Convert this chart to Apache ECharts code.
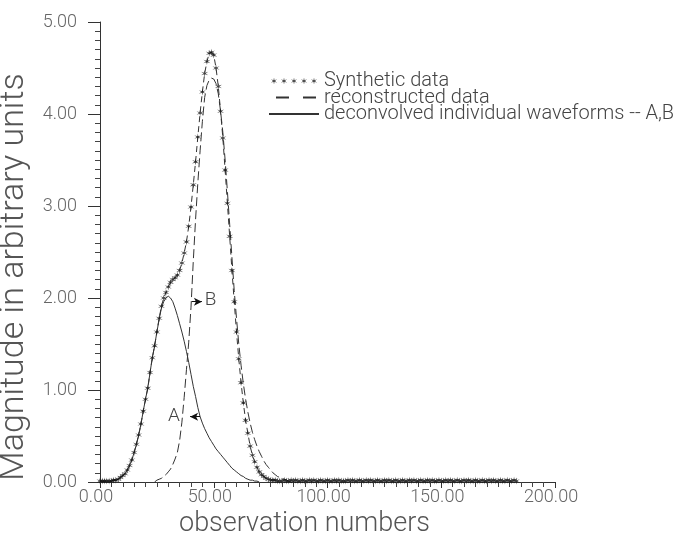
<!DOCTYPE html>
<html>
<head>
<meta charset="utf-8">
<script src="https://cdn.jsdelivr.net/npm/echarts@6/dist/echarts.min.js"></script>
<style>html,body{margin:0;padding:0;background:#fff}#c{width:687px;height:533px}</style>
</head>
<body>
<div id="c"></div>
<script>
// ---- data ----
// observation numbers are sampled at every integer, starting at the given start value
const syntheticStart = 0;
const syntheticData = [
  0.01,0.01,0.01,0.01,0.01,0.01,0.02,0.02,0.03,0.05,
  0.07,0.09,0.13,0.18,0.24,0.32,0.41,0.51,0.63,0.77,
  0.90,1.02,1.19,1.35,1.48,1.63,1.78,1.91,2.00,2.06,
  2.12,2.17,2.20,2.22,2.25,2.30,2.38,2.49,2.61,2.78,
  2.99,3.23,3.48,3.75,4.01,4.24,4.44,4.57,4.66,4.67,
  4.64,4.50,4.30,4.03,3.74,3.39,3.03,2.67,2.30,1.96,
  1.63,1.34,1.08,0.86,0.67,0.53,0.39,0.29,0.22,0.16,
  0.11,0.08,0.06,0.04,0.03,0.02,0.02,0.02,0.01,0.01,
  0.01,0.02,0.01,0.01,0.02,0.01,0.02,0.01,0.01,0.02,
  0.01,0.01,0.02,0.01,0.02,0.01,0.01,0.02,0.01,0.01,
  0.02,0.01,0.01,0.02,0.01,0.02,0.01,0.01,0.01,0.02,
  0.01,0.02,0.01,0.01,0.02,0.01,0.01,0.02,0.01,0.02,
  0.01,0.01,0.02,0.01,0.01,0.02,0.01,0.02,0.01,0.01,
  0.02,0.01,0.01,0.02,0.01,0.01,0.02,0.01,0.02,0.01,
  0.01,0.02,0.01,0.01,0.02,0.01,0.02,0.01,0.01,0.02,
  0.01,0.01,0.02,0.01,0.02,0.01,0.01,0.02,0.01,0.01,
  0.02,0.01,0.02,0.01,0.01,0.02,0.01,0.01,0.02,0.01,
  0.01,0.02,0.01,0.02,0.01,0.01,0.02,0.01,0.01,0.02,
  0.01,0.01,0.02,0.01
];
const reconstructedStart = 0;
const reconstructedData = [
  0.01,0.01,0.01,0.01,0.01,0.01,0.02,0.02,0.03,0.05,
  0.07,0.09,0.13,0.18,0.24,0.32,0.41,0.51,0.63,0.77,
  0.90,1.02,1.19,1.35,1.48,1.63,1.78,1.91,2.00,2.06,
  2.12,2.17,2.20,2.22,2.25,2.30,2.38,2.49,2.61,2.78,
  2.99,3.23,3.48,3.75,4.01,4.24,4.44,4.57,4.66,4.67,
  4.64,4.50,4.30,4.03,3.74,3.39,3.03,2.67,2.30,1.96,
  1.63,1.34,1.08,0.86,0.67,0.53,0.39,0.29,0.22,0.16,
  0.11,0.08,0.06,0.04,0.03,0.02,0.02,0.02,0.01,0.01
];
const waveAStart = 0;
const waveAData = [
  0.01,0.01,0.01,0.01,0.01,0.01,0.02,0.02,0.03,0.05,
  0.07,0.09,0.13,0.18,0.24,0.32,0.41,0.51,0.63,0.77,
  0.90,1.02,1.19,1.35,1.48,1.63,1.77,1.89,1.96,2.00,
  2.02,2.00,1.96,1.89,1.81,1.72,1.63,1.53,1.42,1.30,
  1.17,1.04,0.93,0.81,0.71,0.64,0.58,0.53,0.48,0.44,
  0.40,0.36,0.33,0.30,0.27,0.24,0.21,0.18,0.15,0.13,
  0.11,0.09,0.07,0.06,0.04,0.03,0.02,0.02,0.01,0.01,
  0.00
];
const waveBStart = 24;
const waveBData = [
  0.00,0.02,0.03,0.04,0.06,0.08,0.11,0.14,0.19,0.25,
  0.32,0.45,0.65,0.92,1.22,1.52,1.90,2.40,2.85,3.25,
  3.60,3.92,4.18,4.31,4.37,4.39,4.38,4.33,4.22,4.03,
  3.80,3.50,3.16,2.80,2.44,2.08,1.78,1.50,1.27,1.07,
  0.90,0.76,0.64,0.54,0.46,0.39,0.33,0.28,0.23,0.19,
  0.16,0.13,0.10,0.08,0.06,0.05,0.04,0.03,0.02,0.01,
  0.00
];
// annotation arrows (data coordinates) and their labels
const arrowA = [[44.0, 0.71], [39.6, 0.71]];
const labelA = [32.5, 0.72];
const arrowB = [[40.4, 1.96], [44.8, 1.96]];
const labelB = [48.6, 1.98];

const xTicks = {min: 0, max: 200, interval: 50};
const yTicks = {min: 0, max: 5, interval: 1};

// ---- helpers ----
const toPairs = (start, vals) => vals.map((v, i) => [start + i, v]);
function starPath(cx, cy, R, r) {
  let d = '';
  for (let k = 0; k < 12; k++) {
    const ang = (90 - 30 * k) * Math.PI / 180;
    const rad = (k % 2 === 0) ? R : r;
    const x = cx + rad * Math.cos(ang), y = cy - rad * Math.sin(ang);
    d += (k === 0 ? 'M' : 'L') + x.toFixed(3) + ' ' + y.toFixed(3) + ' ';
  }
  return d + 'Z ';
}
const STAR = 'path://' + starPath(0, 0, 10, 2.6);
let five = '';
for (let i = 0; i < 5; i++) five += starPath(5 + i * 10, 3.5, 3.5, 1.0);
const FIVE_STARS = 'path://' + five;

const FONT = 'Roboto';
const W = 300;
const legendName = 'deconvolved individual waveforms -- A,B';
const hiddenSymbol = {opacity: 0};

const chart = echarts.init(document.getElementById('c'), null, {renderer: 'canvas'});
chart.setOption({
  animation: false,
  backgroundColor: '#fff',
  textStyle: {fontFamily: FONT, fontWeight: W},
  grid: {left: 100, right: 132, top: 22, bottom: 51, containLabel: false, outerBoundsMode: 'none'},
  legend: {
    orient: 'vertical', left: 268, top: 71, itemGap: -3.5, padding: 0,
    itemWidth: 50, itemHeight: 7, selectedMode: false,
    textStyle: {fontFamily: FONT, fontWeight: W, fontSize: 20, color: '#444'},
    data: [
      {name: 'Synthetic data', icon: FIVE_STARS},
      {name: 'reconstructed data', itemStyle: hiddenSymbol, lineStyle: {type: [13, 14], dashOffset: 20}},
      {name: legendName, itemStyle: hiddenSymbol}
    ]
  },
  xAxis: {
    type: 'value', min: xTicks.min, max: xTicks.max, interval: xTicks.interval,
    axisLine: {show: true, onZero: false, lineStyle: {color: '#333', width: 1}},
    axisTick: {show: true, length: 6, lineStyle: {color: '#333'}},
    minorTick: {show: true, splitNumber: 10, length: 5, lineStyle: {color: '#444'}},
    splitLine: {show: false},
    axisLabel: {formatter: v => v.toFixed(2), fontFamily: FONT, fontWeight: W, fontSize: 18, color: '#666', margin: 6, padding: [0, 8, 0, 0]},
    name: 'observation numbers', nameLocation: 'middle', nameGap: 17,
    nameTextStyle: {fontFamily: FONT, fontWeight: W, fontSize: 27, color: '#555', padding: [0, 46, 0, 0]}
  },
  yAxis: {
    type: 'value', min: yTicks.min, max: yTicks.max, interval: yTicks.interval,
    axisLine: {show: true, lineStyle: {color: '#333', width: 1}},
    axisTick: {show: true, length: 12, lineStyle: {color: '#333'}},
    minorTick: {show: true, splitNumber: 10, length: 5, lineStyle: {color: '#444'}},
    splitLine: {show: false},
    axisLabel: {formatter: v => v.toFixed(2), fontFamily: FONT, fontWeight: W, fontSize: 18, color: '#666', margin: 23},
    name: 'Magnitude in arbitrary units', nameLocation: 'middle', nameGap: 59,
    nameTextStyle: {fontFamily: FONT, fontWeight: W, fontSize: 34, color: '#555', padding: [0, 50, 0, 0]}
  },
  series: [
    {
      type: 'scatter', name: 'Synthetic data', data: toPairs(syntheticStart, syntheticData),
      symbol: STAR, symbolSize: 7, itemStyle: {color: '#111'}, z: 5, silent: true
    },
    {
      type: 'line', name: 'reconstructed data', data: toPairs(reconstructedStart, reconstructedData),
      symbol: 'none', showSymbol: false, itemStyle: {color: '#333'},
      lineStyle: {color: '#333', width: 1, type: [6, 4]}, z: 3, silent: true
    },
    {
      type: 'line', name: legendName, data: toPairs(waveAStart, waveAData),
      symbol: 'none', showSymbol: false, itemStyle: {color: '#333'},
      lineStyle: {color: '#333', width: 1, type: 'solid'}, z: 3, silent: true,
      markLine: {
        silent: true, animation: false, symbol: ['none', 'arrow'], symbolSize: [6, 8],
        lineStyle: {color: '#111', width: 1, type: 'solid'}, label: {show: false},
        data: [[{coord: arrowA[0]}, {coord: arrowA[1]}]]
      },
      markPoint: {
        silent: true, animation: false, symbol: 'circle', symbolSize: 1, itemStyle: {color: 'rgba(0,0,0,0)'},
        label: {show: true, position: 'inside', formatter: 'A', fontFamily: FONT, fontWeight: W, fontSize: 19, color: '#444'},
        data: [{coord: labelA}]
      }
    },
    {
      type: 'line', name: legendName, data: toPairs(waveBStart, waveBData),
      symbol: 'none', showSymbol: false, itemStyle: {color: '#333'},
      lineStyle: {color: '#333', width: 1, type: [9, 4]}, z: 3, silent: true,
      markLine: {
        silent: true, animation: false, symbol: ['none', 'arrow'], symbolSize: [6, 8],
        lineStyle: {color: '#111', width: 1, type: 'solid'}, label: {show: false},
        data: [[{coord: arrowB[0]}, {coord: arrowB[1]}]]
      },
      markPoint: {
        silent: true, animation: false, symbol: 'circle', symbolSize: 1, itemStyle: {color: 'rgba(0,0,0,0)'},
        label: {show: true, position: 'inside', formatter: 'B', fontFamily: FONT, fontWeight: W, fontSize: 19, color: '#444'},
        data: [{coord: labelB}]
      }
    }
  ]
});
</script>
</body>
</html>
